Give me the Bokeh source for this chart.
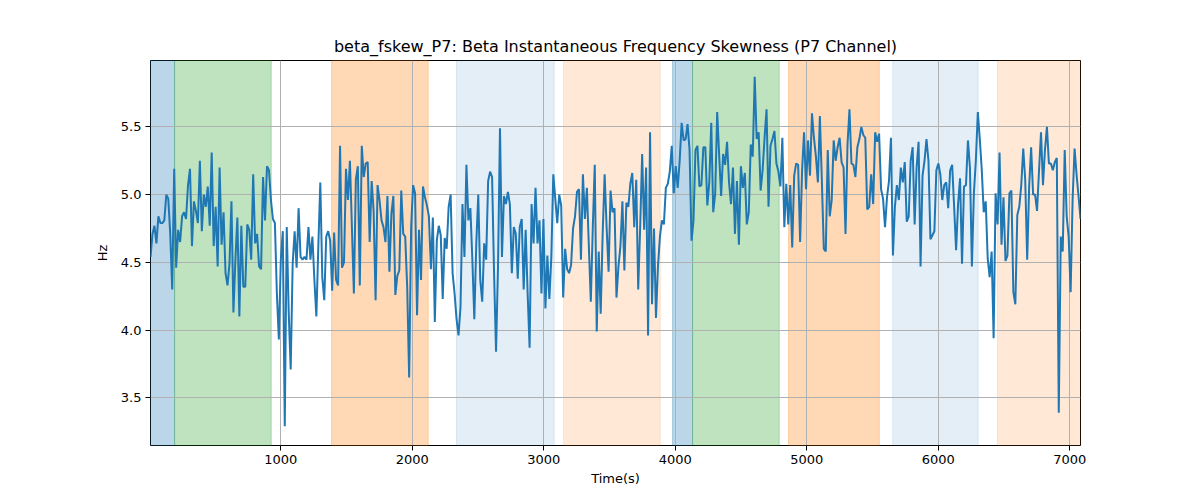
import numpy as np
from bokeh.plotting import figure
from bokeh.models import Range1d, FixedTicker, BoxAnnotation, NumeralTickFormatter
from bokeh.embed import file_html
from bokeh.resources import INLINE

# beta skewness trace, in order
hz = [
    4.54, 4.71, 4.77, 4.64, 4.84, 4.79, 4.79, 4.81, 5.00, 4.97, 4.71, 4.30, 5.19, 4.46, 4.74, 4.65,
    4.84, 4.87, 4.82, 5.07, 5.19, 4.62, 4.95, 4.88, 4.79, 5.25, 4.73, 5.00, 4.91, 5.06, 4.77, 5.31,
    4.62, 4.91, 4.47, 5.20, 4.63, 4.87, 4.42, 4.33, 4.49, 4.95, 4.13, 4.52, 4.83, 4.10, 4.77, 4.32,
    4.32, 4.78, 4.74, 4.52, 5.15, 4.64, 4.71, 4.47, 4.45, 5.13, 4.81, 5.21, 5.18,
    4.96, 4.82, 4.79, 4.27, 3.93, 4.52, 4.73, 3.29, 4.76, 4.13, 3.71, 4.49, 4.73, 4.46, 4.90, 4.54,
    4.52, 4.54, 4.52, 4.76, 4.52, 4.69, 4.37, 4.10, 4.62, 5.09, 4.39, 4.22, 4.69, 4.73, 4.66, 4.29,
    4.72, 4.37, 4.33, 5.36, 4.46, 4.50, 5.19, 4.96, 5.25, 4.76, 4.27, 5.11, 5.21, 4.33, 5.36, 5.13,
    5.23, 5.24, 4.65, 5.10, 4.88, 4.22, 5.07, 4.96, 4.81, 4.76, 4.65, 4.99,
    4.43, 4.86, 4.99, 4.26, 4.40, 4.44, 5.03, 4.71, 4.69, 4.32, 3.65, 4.76, 5.07, 5.01, 4.11, 4.74,
    4.37, 5.06, 4.98, 4.92, 4.84, 4.45, 4.83, 4.06, 4.66, 4.77, 4.70, 4.23, 4.68, 4.60, 4.91, 5.00,
    4.42, 4.27, 4.08, 3.96, 4.17, 4.93, 4.54, 5.22, 4.81, 4.90, 4.52, 4.08, 4.64, 5.00, 4.37, 4.21,
    4.64, 4.52, 5.10, 5.17, 5.13, 4.42, 3.84, 4.47, 5.49, 4.54, 4.99,
    4.93, 5.02, 4.93, 4.42, 4.76, 4.71, 4.38, 4.76, 4.82, 4.30, 4.74, 4.27, 3.87, 4.93, 4.64, 5.05,
    4.64, 4.81, 4.27, 4.82, 4.16, 4.55, 4.23, 4.54, 5.15, 4.97, 4.79, 5.00, 4.92, 4.24, 4.60, 4.45,
    4.42, 4.48, 4.75, 4.84, 5.02, 5.04, 4.52, 5.15, 4.82, 5.05, 4.62, 4.21, 4.76, 5.22, 3.99, 4.58,
    4.12, 4.71, 5.15, 4.76, 4.43, 5.03, 4.87, 4.90, 4.24, 4.47,
    4.62, 4.95, 4.44, 4.94, 4.91, 5.08, 5.16, 4.76, 5.11, 4.30, 4.76, 5.30, 4.74, 5.20, 3.96, 5.46,
    4.19, 4.75, 4.09, 4.47, 4.69, 4.81, 4.78, 5.05, 5.08, 5.17, 5.36, 5.01, 5.21, 5.05, 5.25, 5.53,
    5.40, 5.41, 5.52, 5.33, 4.66, 4.81, 5.33, 5.36, 5.06, 5.07, 5.35, 5.35, 4.92, 5.09, 5.53, 4.87,
    5.01, 5.61, 5.29, 4.99, 5.30, 5.22, 5.39, 5.09, 4.93, 5.20, 4.71,
    5.10, 4.63, 5.21, 5.05, 5.16, 4.78, 4.87, 5.37, 5.28, 5.87, 5.41, 5.46, 5.03, 5.18, 5.42, 5.63,
    4.91, 5.36, 5.41, 5.47, 5.23, 5.17, 5.06, 5.42, 4.76, 5.08, 4.78, 5.07, 4.61, 5.14, 5.23, 5.22,
    4.65, 5.18, 5.46, 5.04, 5.40, 5.14, 5.60, 5.42, 5.28, 5.09, 5.58, 5.11, 4.60, 4.58, 5.33, 4.84,
    4.96, 5.40, 5.25, 5.35, 5.42, 5.24, 5.20, 4.71, 5.37, 5.63, 5.23,
    5.22, 5.13, 5.35, 5.41, 5.50, 5.44, 5.42, 4.89, 4.91, 5.15, 4.93, 5.46, 5.39, 5.45, 5.04, 4.97,
    4.76, 4.98, 5.10, 5.42, 4.55, 4.91, 5.07, 4.96, 5.20, 5.09, 5.24, 4.80, 4.84, 5.25, 5.35, 4.78,
    5.20, 5.39, 4.47, 5.14, 5.25, 5.41, 5.25, 4.67, 4.70, 4.73, 5.18, 5.23, 5.15, 4.96, 5.07, 5.09,
    4.90, 5.18, 5.22, 4.91, 4.59, 4.93, 5.12, 4.49, 5.06, 5.07, 5.40,
    5.20, 4.47, 5.01, 5.25, 5.61, 5.41, 5.18, 4.87, 4.95, 4.53, 4.39, 4.58, 3.94, 5.01, 4.78, 5.31,
    4.63, 4.98, 4.51, 4.55, 5.01, 5.03, 4.28, 4.19, 4.85, 4.91, 5.07, 5.34, 5.11, 4.52, 5.06, 5.35,
    5.00, 5.00, 4.88, 5.18, 5.46, 5.07, 5.33, 5.50, 5.23, 5.23, 5.18, 5.24, 5.27, 3.39, 4.69, 4.58,
    5.33, 4.84, 4.69, 4.28, 4.96, 5.34, 5.15, 4.99, 4.82,
]
t_start = 9
t_end = 7081
times = np.linspace(t_start, t_end, len(hz))

# shaded phases: start, end, colour, alpha
span_start = [t_start, 192, 1386, 2336, 3150, 3979, 4131, 4861, 5653, 6450]
span_end = [192, 927, 2121, 3079, 3885, 4131, 4790, 5551, 6303, t_end]
span_color = ["#1f77b4", "#2ca02c", "#ff7f0e", "#1f77b4", "#ff7f0e",
              "#1f77b4", "#2ca02c", "#ff7f0e", "#1f77b4", "#ff7f0e"]
span_alpha = [0.3, 0.3, 0.3, 0.12, 0.17, 0.3, 0.3, 0.3, 0.12, 0.17]

x_ticks = [1000, 2000, 3000, 4000, 5000, 6000, 7000]
y_ticks = [3.5, 4.0, 4.5, 5.0, 5.5]
y_low, y_high = 3.148, 5.99

p = figure(width=1200, height=500, output_backend="svg", toolbar_location=None,
           x_range=Range1d(t_start, t_end), y_range=Range1d(y_low, y_high),
           title="beta_fskew_P7: Beta Instantaneous Frequency Skewness (P7 Channel)",
           min_border_left=150, min_border_right=120, min_border_top=60, min_border_bottom=55)

p.title.align = "center"
p.title.text_font = "DejaVu Sans"
p.title.text_font_size = "16px"
p.title.text_font_style = "normal"
p.title.text_color = "black"

# spans sit under the grid, like axvspan in the original
for s, e, c, a in zip(span_start, span_end, span_color, span_alpha):
    p.add_layout(BoxAnnotation(left=s, right=e, fill_color=c, fill_alpha=a,
                               line_color=c, line_alpha=a, line_width=1, level="image"))

p.line(times, hz, line_color="#1f77b4", line_width=2)

p.xaxis.ticker = FixedTicker(ticks=x_ticks)
p.yaxis.ticker = FixedTicker(ticks=y_ticks)
p.yaxis.formatter = NumeralTickFormatter(format="0.0")
p.xaxis.axis_label = "Time(s)"
p.yaxis.axis_label = "Hz"
for ax in (p.xaxis, p.yaxis):
    ax.axis_label_text_font = "DejaVu Sans"
    ax.axis_label_text_font_size = "13px"
    ax.axis_label_text_font_style = "normal"
    ax.axis_label_text_color = "black"
    ax.major_label_text_font = "DejaVu Sans"
    ax.major_label_text_font_size = "13px"
    ax.major_label_text_color = "black"
    ax.minor_tick_line_color = None
    ax.major_tick_out = 5
    ax.major_tick_in = 0
    ax.major_tick_line_color = "black"
    ax.axis_line_color = None
    ax.major_label_standoff = 4
p.yaxis.axis_label_standoff = 8
p.xaxis.axis_label_standoff = 4

p.grid.grid_line_color = "#b0b0b0"
p.grid.grid_line_width = 1
p.outline_line_color = "black"
p.outline_line_width = 1
p.background_fill_color = "white"

open("out.html", "w").write(file_html(p, INLINE))
